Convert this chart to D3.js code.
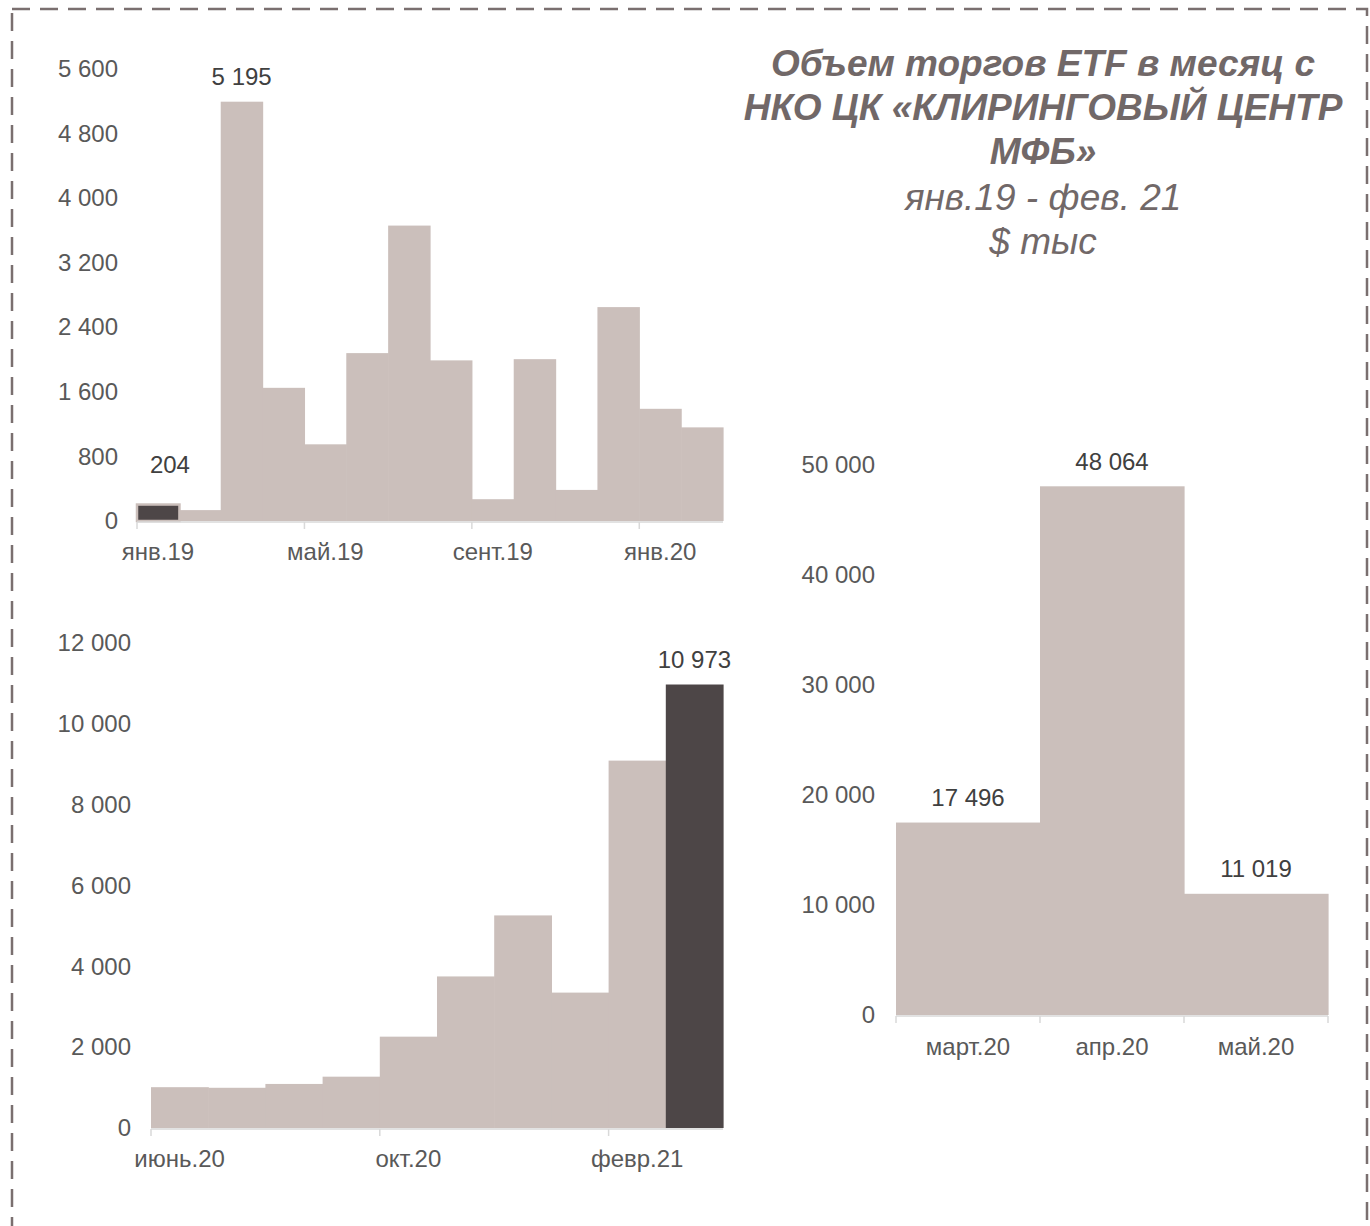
<!DOCTYPE html>
<html>
<head>
<meta charset="utf-8">
<script src="https://cdn.jsdelivr.net/npm/d3@7"></script>
<style>
    body { margin: 0; background: #ffffff; }
    svg { display: block; font-family: "Liberation Sans", Arial, sans-serif; }
    .tick-label { fill: #595959; font-size: 24px; }
    .value-label { fill: #404040; font-size: 24px; }
    .title { fill: #716868; font-size: 37px; font-style: italic; }
</style>
</head>
<body>
<div id="chart"></div>
<script>
// first panel: Jan 2019 - Feb 2020
const months2019 = ["янв.19", "февр.19", "март.19", "апр.19", "май.19", "июнь.19", "июль.19",
    "авг.19", "сент.19", "окт.19", "нояб.19", "дек.19", "янв.20", "февр.20"];
const values2019 = [204, 135, 5195, 1650, 950, 2080, 3660, 1990, 270, 2005, 385, 2650, 1390, 1160];
const ticks2019 = [0, 800, 1600, 2400, 3200, 4000, 4800, 5600];

// second panel: Jun 2020 - Mar 2021
const months2020 = ["июнь.20", "июль.20", "авг.20", "сент.20", "окт.20", "нояб.20", "дек.20",
    "янв.21", "февр.21", "март.21"];
const values2020 = [1010, 995, 1090, 1270, 2260, 3750, 5260, 3350, 9090, 10973];
const ticks2020 = [0, 2000, 4000, 6000, 8000, 10000, 12000];

// third panel: the spring 2020 peak
const monthsPeak = ["март.20", "апр.20", "май.20"];
const valuesPeak = [17496, 48064, 11019];
const ticksPeak = [0, 10000, 20000, 30000, 40000, 50000];

const titleLines = ["Объем торгов ETF в месяц с", "НКО ЦК «КЛИРИНГОВЫЙ ЦЕНТР", "МФБ»"];
const subtitleLines = ["янв.19 - фев. 21", "$ тыс"];

const colors = { bar: "#cbbfbb", dark: "#4d4647", axis: "#d9d9d9", border: "#7a6f6f" };

const fmt = d3.formatLocale({ decimal: ",", thousands: "\u00a0", grouping: [3], currency: ["", ""] }).format(",");

const svg = d3.select("#chart").append("svg")
    .attr("width", 1370)
    .attr("height", 1226);

svg.append("rect")
    .attr("x", 12)
    .attr("y", 9)
    .attr("width", 1355)
    .attr("height", 1260)
    .attr("fill", "none")
    .attr("stroke", colors.border)
    .attr("stroke-width", 2.5)
    .attr("stroke-dasharray", "18,10");

function drawPanel(p) {
    const x = d3.scaleBand()
        .domain(p.months)
        .range(p.xRange)
        .padding(0);

    const y = d3.scaleLinear()
        .domain([0, d3.max(p.ticks)])
        .range(p.yRange);

    const g = svg.append("g");

    // y axis: labels only
    g.append("g")
        .attr("transform", `translate(${p.xRange[0]},0)`)
        .call(d3.axisLeft(y).tickValues(p.ticks).tickSize(0).tickPadding(p.pad).tickFormat(fmt))
        .call(a => a.select(".domain").remove())
        .selectAll("text")
        .attr("class", "tick-label")
        .attr("fill", null)
        .attr("font-size", null)
        .attr("font-family", null);

    g.selectAll(".bar")
        .data(p.values)
        .enter()
        .append("rect")
        .attr("x", (d, i) => x(p.months[i]))
        .attr("y", d => y(d))
        .attr("width", x.bandwidth() + 0.6)
        .attr("height", d => y(0) - y(d))
        .attr("fill", (d, i) => i === p.dark ? colors.dark : colors.bar)
        .attr("stroke", (d, i) => i === p.dark && p.outline ? colors.bar : "none")
        .attr("stroke-width", 2.5);

    // baseline and ticks between months
    const y0 = y(0) + 1;
    g.append("line")
        .attr("x1", p.xRange[0])
        .attr("x2", p.xRange[1])
        .attr("y1", y0)
        .attr("y2", y0)
        .attr("stroke", colors.axis)
        .attr("stroke-width", 1.5);

    const tickMonths = p.months.filter((m, i) => i % p.every === 0);
    const tickXs = tickMonths.map(m => x(m));
    if (p.closeTick) tickXs.push(p.xRange[1]);
    g.selectAll(".xtick")
        .data(tickXs)
        .enter()
        .append("line")
        .attr("x1", d => d)
        .attr("x2", d => d)
        .attr("y1", y0)
        .attr("y2", y0 + 7)
        .attr("stroke", colors.axis)
        .attr("stroke-width", 1.5);

    g.selectAll(".xlabel")
        .data(tickMonths)
        .enter()
        .append("text")
        .attr("class", "tick-label")
        .attr("x", d => x(d) + x.bandwidth() / 2)
        .attr("y", p.labelY)
        .attr("text-anchor", "middle")
        .attr("dominant-baseline", "central")
        .text(d => d);

    g.selectAll(".vlabel")
        .data(p.labelled)
        .enter()
        .append("text")
        .attr("class", "value-label")
        .attr("x", i => x(p.months[i]) + x.bandwidth() / 2 + (p.shift[i] ? p.shift[i][0] : 0))
        .attr("y", i => y(p.values[i]) - 25 + (p.shift[i] ? p.shift[i][1] : 0))
        .attr("text-anchor", "middle")
        .attr("dominant-baseline", "central")
        .text(i => fmt(p.values[i]));
}

drawPanel({
    months: months2019, values: values2019, ticks: ticks2019,
    xRange: [137, 723], yRange: [521, 69], pad: 19,
    dark: 0, outline: true, every: 4, closeTick: false, labelY: 551,
    labelled: [0, 2], shift: { 0: [12, -15] }
});

drawPanel({
    months: months2020, values: values2020, ticks: ticks2020,
    xRange: [151, 723], yRange: [1128, 643], pad: 20,
    dark: 9, outline: false, every: 4, closeTick: false, labelY: 1158,
    labelled: [9], shift: {}
});

drawPanel({
    months: monthsPeak, values: valuesPeak, ticks: ticksPeak,
    xRange: [896, 1328], yRange: [1015, 465], pad: 21,
    dark: -1, outline: false, every: 1, closeTick: true, labelY: 1046,
    labelled: [0, 1, 2], shift: {}
});

// title block
const title = svg.append("text")
    .attr("class", "title")
    .attr("text-anchor", "middle");

titleLines.forEach((t, i) => {
    title.append("tspan")
        .attr("x", 1043)
        .attr("y", 76 + i * 44)
        .attr("font-weight", "bold")
        .text(t);
});
subtitleLines.forEach((t, i) => {
    title.append("tspan")
        .attr("x", 1043)
        .attr("y", 210 + i * 44)
        .text(t);
});
</script>
</body>
</html>
